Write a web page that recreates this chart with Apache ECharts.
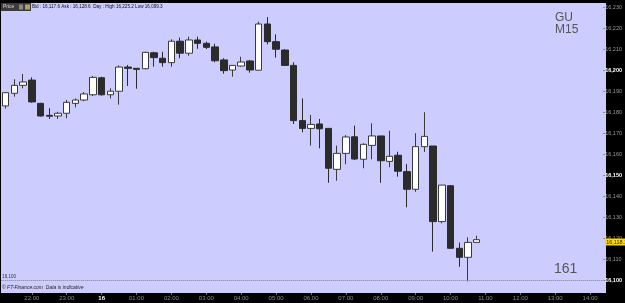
<!DOCTYPE html>
<html><head><meta charset="utf-8">
<script src="https://cdn.jsdelivr.net/npm/echarts@6/dist/echarts.min.js"></script>
<style>html,body{margin:0;padding:0;background:#000;}#c{width:625px;height:303px;}</style>
</head><body><div id="c"></div>
<script>
const times = ["21:15","21:30","21:45","22:00","22:15","22:30","22:45","23:00","23:15","23:30","23:45","00:00","00:15","00:30","00:45","01:00","01:15","01:30","01:45","02:00","02:15","02:30","02:45","03:00","03:15","03:30","03:45","04:00","04:15","04:30","04:45","05:00","05:15","05:30","05:45","06:00","06:15","06:30","06:45","07:00","07:15","07:30","07:45","08:00","08:15","08:30","08:45","09:00","09:15","09:30","09:45","10:00","10:15","10:30","10:45","11:00","11:15","11:30","11:45","12:00","12:15","12:30","12:45","13:00","13:15","13:30","13:45","14:00","14:15"];
const opens  = [16182.9,16188.9,16192.7,16195.2,16184.1,16178.4,16178.1,16179.4,16184.1,16185.7,16188.2,16196.3,16188.2,16189.9,16201.4,16200.8,16200.6,16208.2,16205.6,16203.5,16213.7,16208.0,16214.3,16212.7,16211.0,16204.8,16200.0,16201.9,16204.3,16199.9,16221.9,16213.5,16209.5,16202.2,16175.9,16172.2,16174.3,16172.2,16152.7,16160.3,16168.2,16157.5,16164.1,16168.6,16156.5,16159.4,16151.6,16143.2,16163.5,16163.8,16127.8,16144.9,16115.1,16110.8,16117.9];
const closes = [16189.2,16192.7,16194.3,16184.8,16178.1,16178.0,16179.4,16184.6,16185.7,16188.6,16196.5,16188.2,16189.9,16201.4,16200.8,16200.3,16208.4,16205.9,16203.5,16213.7,16208.0,16214.3,16212.7,16210.8,16204.4,16199.7,16202.2,16203.8,16200.0,16221.9,16213.5,16209.9,16202.2,16175.9,16172.2,16174.1,16172.0,16153.2,16160.3,16168.1,16157.6,16164.6,16168.6,16156.8,16158.9,16151.8,16143.2,16163.5,16168.4,16127.8,16145.2,16115.1,16110.8,16117.9,16119.2];
const lows   = [16181.6,16187.3,16191.3,16184.4,16177.8,16176.7,16176.7,16177.0,16182.2,16185.1,16187.6,16187.8,16186.5,16183.5,16192.4,16191.1,16200.3,16201.6,16201.6,16201.6,16205.6,16206.8,16210.1,16210.0,16203.7,16198.2,16196.8,16201.6,16198.7,16199.9,16212.2,16205.9,16201.9,16174.3,16170.3,16164.0,16162.7,16146.3,16147.3,16155.1,16157.1,16153.2,16157.5,16146.3,16153.7,16149.2,16134.6,16142.0,16161.0,16113.5,16127.0,16115.1,16106.3,16099.3,16117.9];
const highs  = [16189.5,16195.6,16198.1,16196.5,16184.4,16181.8,16180.1,16185.7,16186.5,16189.5,16197.1,16196.8,16191.3,16202.2,16202.4,16200.8,16208.7,16208.7,16208.7,16214.6,16215.4,16215.9,16215.9,16213.5,16212.5,16205.6,16202.2,16206.3,16204.8,16223.0,16225.2,16217.0,16209.9,16203.7,16186.5,16178.6,16176.7,16172.2,16164.0,16169.0,16173.5,16165.1,16174.6,16168.6,16171.1,16161.1,16155.2,16169.9,16179.9,16163.8,16145.2,16145.2,16117.8,16120.3,16121.1];
const lastPrice = 16118.1;
const lastPriceLabel = "16,118.1";
const refLevel = 16100;
const headerText = "Bid : 16,117.6 Ask : 16,128.6  Day : High 16,225.2 Low 16,099.3";

const data = opens.map((o, i) => [o, closes[i], lows[i], highs[i]]);
const fmt = v => Math.round(v).toString().replace(/\B(?=(\d{3})+(?!\d))/g, ',');
const FONT = '"Liberation Sans", Arial, sans-serif';

const chart = echarts.init(document.getElementById('c'), null, {renderer: 'canvas'});
chart.setOption({
  animation: false,
  backgroundColor: '#000',
  grid: {left: 1.33, right: 19.9, top: 0, bottom: 2, containLabel: false},
  graphic: [
    {type: 'rect', z: -10, shape: {x: 1, y: 3, width: 605, height: 290}, style: {fill: '#ccccff'}},
    {type: 'rect', z: 10, shape: {x: 1, y: 3, width: 30, height: 8}, style: {fill: '#3c3c3c'}},
    {type: 'text', z: 11, style: {x: 3, y: 7, text: 'Price', fill: '#d8d8d8', font: '5px ' + FONT, verticalAlign: 'middle'}},
    {type: 'rect', z: 11, shape: {x: 19, y: 4.5, width: 4, height: 5}, style: {fill: '#888'}},
    {type: 'rect', z: 11, shape: {x: 25, y: 4.5, width: 5, height: 5}, style: {fill: '#b8a060'}},
    {type: 'text', z: 11, style: {x: 32, y: 7, text: headerText, fill: '#111', font: '4.6px ' + FONT, verticalAlign: 'middle'}},
    {type: 'text', z: 11, style: {x: 555, y: 12, text: 'GU\nM15', fill: '#555', font: '12px ' + FONT, lineHeight: 12}},
    {type: 'text', z: 11, style: {x: 554, y: 262, text: '161', fill: '#555', font: '14px ' + FONT}},
    {type: 'text', z: 11, style: {x: 2, y: 288, text: '© FT-Finance.com  Data is indicative', fill: '#222', font: 'italic 5px ' + FONT, verticalAlign: 'middle'}}
  ],
  xAxis: {
    type: 'category', data: times, boundaryGap: true, offset: -8,
    axisLine: {show: false},
    axisTick: {show: true, length: 2, alignWithLabel: true, lineStyle: {color: '#777'}, interval: (i, v) => v.endsWith(':00')},
    axisLabel: {
      interval: (i, v) => v.endsWith(':00'), margin: 2, fontSize: 6, color: '#8a8a8a', fontFamily: FONT,
      formatter: v => v === '00:00' ? '{d|16}' : v,
      rich: {d: {fontSize: 6, fontWeight: 'bold', color: '#fff', fontFamily: FONT}}
    },
    splitLine: {show: false}
  },
  yAxis: {
    type: 'value', position: 'right', min: 16090, max: 16100 + 280 / 2.1, interval: 10,
    axisLine: {show: false},
    axisTick: {show: true, length: 2, lineStyle: {color: '#888'}},
    axisLabel: {
      showMinLabel: false, showMaxLabel: false, margin: 2, fontSize: 5.5, color: '#9a9a9a', fontFamily: FONT,
      formatter: v => (v % 50 === 0 ? '{b|' + fmt(v) + '}' : fmt(v)),
      rich: {b: {fontSize: 5.5, fontWeight: 'bold', color: '#fff', fontFamily: FONT}}
    },
    splitLine: {show: false}
  },
  series: [{
    type: 'candlestick', data: data, barWidth: 7,
    itemStyle: {color: '#ffffff', color0: '#2b2b2b', borderColor: '#3a3a3a', borderColor0: '#2b2b2b', borderWidth: 1},
    markLine: {
      silent: true, symbol: 'none',
      data: [
        {yAxis: refLevel, lineStyle: {color: '#808080', type: 'dotted', width: 1},
         label: {show: true, position: 'insideStartTop', formatter: fmt(refLevel), fontSize: 4.5, color: '#333', distance: 1}},
        {yAxis: lastPrice, lineStyle: {color: 'rgba(0,0,0,0)', width: 0},
         label: {show: true, position: 'end', formatter: lastPriceLabel, fontSize: 5.5, color: '#222', backgroundColor: '#ffd800', padding: [1, 1, 0, 1], distance: 2}}
      ]
    }
  }]
});
</script></body></html>
